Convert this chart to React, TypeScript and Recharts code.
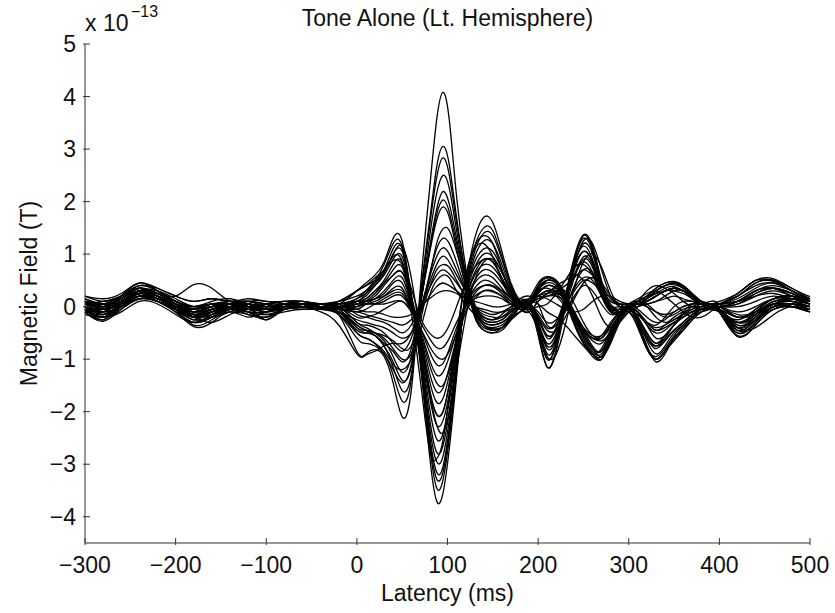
import { LineChart, Line, XAxis, YAxis } from 'recharts'

// latency samples (ms), denser around the M100
const latency = [
  -300, -280, -260, -240, -220, -200, -180, -160, -140, -120, -100, -80, -60, -40, -20,
  0, 10, 20, 30, 40, 50, 60, 70, 80, 88, 95, 102, 110, 120, 130, 140, 150, 160, 170, 180, 190,
  200, 210, 220, 230, 240, 250, 260, 270, 280, 290, 300,
  310, 320, 330, 340, 350, 360, 370, 380, 390, 400, 420, 440, 460, 480, 500,
]

// channels with positive M100 (units of 1e-13 T)
const chA1 = [0.1, -0.05, 0.05, 0.25, 0.15, -0.05, -0.2, -0.15, -0.05, 0, -0.1, 0, 0.05, 0, -0.15,
  -0.85, -0.9, -0.82, -0.95, -1.45, -2.1, -1.6, 0.35, 2.2, 3.55, 4.08, 3.55, 2.1, 0.75, -0.15, -0.45, -0.5, -0.4, -0.2, 0, 0.05,
  0.3, 0.5, 0.5, 0.2, -0.2, -0.55, -0.85, -0.9, -0.55, -0.2, 0,
  -0.35, -0.8, -1, -0.85, -0.65, -0.45, -0.25, -0.1, 0, -0.1, -0.5, -0.3, 0, 0.05, -0.05]
const chA2 = [0, -0.2, 0.05, 0.3, 0.25, 0.05, -0.15, -0.1, 0.05, 0, -0.05, 0.05, 0, -0.05, -0.1,
  -0.5, -0.6, -0.7, -0.9, -1.3, -1.8, -1.4, 0.2, 1.6, 2.65, 3.05, 2.7, 1.7, 0.6, -0.2, -0.45, -0.5, -0.45, -0.25, 0, 0.1,
  -0.3, -0.8, -0.6, 0.1, 0.8, 1.15, 0.9, 0.35, -0.1, -0.1, 0,
  0.05, 0.15, 0.3, 0.4, 0.45, 0.38, 0.22, 0.1, 0, 0.05, 0.2, 0.45, 0.5, 0.3, 0.15]
const chA3 = [0.15, 0.05, 0.15, 0.35, 0.2, 0, -0.1, 0, 0.05, 0.05, -0.05, 0, 0.05, 0, -0.05,
  -0.4, -0.5, -0.55, -0.75, -1.15, -1.6, -1.3, 0.1, 1.5, 2.45, 2.83, 2.5, 1.6, 0.65, 0, -0.3, -0.35, -0.3, -0.15, 0.05, 0.1,
  0.4, 0.55, 0.45, 0.1, -0.3, -0.7, -0.95, -1, -0.65, -0.25, -0.05,
  0, 0.1, 0.2, 0.3, 0.35, 0.3, 0.15, 0.05, 0, -0.1, -0.4, -0.2, 0.05, 0.1, 0]
const chA4 = [-0.05, -0.25, 0, 0.2, 0.1, -0.1, -0.3, -0.2, -0.05, -0.1, -0.2, -0.05, 0, -0.05, -0.15,
  -0.6, -0.7, -0.75, -0.9, -1.2, -1.45, -1.1, 0, 1.1, 1.85, 2.19, 1.95, 1.3, 0.5, -0.1, -0.35, -0.4, -0.35, -0.2, 0, 0.05,
  -0.5, -1.15, -0.85, 0, 0.85, 1.35, 1.1, 0.45, 0, -0.05, 0,
  -0.3, -0.75, -1.05, -0.9, -0.6, -0.4, -0.2, -0.05, 0, -0.1, -0.57, -0.35, -0.05, 0, -0.1]
const chA5 = [0.05, 0, 0.2, 0.4, 0.3, 0.1, -0.05, 0.05, 0.05, 0.1, 0, 0.05, 0.1, 0.05, 0,
  -0.3, -0.4, -0.5, -0.65, -0.95, -1.25, -0.95, 0.05, 1.05, 1.75, 2.03, 1.8, 1.2, 0.55, 0.05, -0.25, -0.3, -0.25, -0.1, 0.05, 0.15,
  0.45, 0.57, 0.5, 0.25, -0.1, -0.45, -0.75, -0.85, -0.5, -0.15, 0,
  0.1, 0.2, 0.35, 0.45, 0.48, 0.4, 0.25, 0.1, 0.05, 0.1, 0.25, 0.5, 0.53, 0.35, 0.19]
const chA6 = [0, -0.1, 0.1, 0.25, 0.2, -0.05, -0.35, -0.25, -0.05, 0, -0.25, 0, 0, 0, -0.1,
  -0.45, -0.5, -0.55, -0.7, -0.85, -1.05, -0.8, 0.05, 1, 1.65, 1.9, 1.7, 1.1, 0.4, -0.15, -0.4, -0.45, -0.4, -0.2, 0, 0,
  -0.45, -1, -0.7, 0.1, 0.75, 1.05, 0.85, 0.35, -0.05, -0.05, 0,
  -0.25, -0.6, -0.8, -0.65, -0.45, -0.3, -0.15, -0.05, 0, -0.05, -0.45, -0.3, 0, 0, -0.05]
const chA7 = [0.1, -0.15, 0.05, 0.3, 0.25, 0.1, 0, 0.05, 0.1, 0.05, 0, 0.05, 0.05, 0.05, 0,
  -0.3, -0.35, -0.4, -0.5, -0.7, -0.85, -0.6, -0.05, 0.55, 0.95, 1.12, 1, 0.7, 0.3, -0.05, -0.25, -0.3, -0.25, -0.1, 0.05, 0.1,
  0.2, 0.3, 0.2, 0, -0.25, -0.45, -0.6, -0.6, -0.35, -0.1, 0,
  -0.2, -0.5, -0.7, -0.55, -0.35, -0.2, -0.1, 0, 0.05, 0, 0.1, 0.3, 0.35, 0.2, 0.1]
const chA8 = [-0.1, -0.28, -0.05, 0.15, 0.1, -0.1, -0.38, -0.3, -0.1, -0.2, -0.1, -0.05, 0, -0.1, -0.35,
  -0.9, -0.92, -0.85, -0.75, -0.7, -0.7, -0.5, -0.05, 0.45, 0.8, 0.96, 0.85, 0.6, 0.3, 0, -0.15, -0.2, -0.2, -0.1, 0, 0.05,
  -0.2, -0.6, -0.4, 0.15, 0.6, 0.85, 0.65, 0.2, -0.1, -0.1, -0.05,
  0, 0.1, 0.2, 0.3, 0.3, 0.25, 0.15, 0.05, 0, -0.05, -0.3, -0.15, 0.05, 0.05, 0]
const chA9 = [0.2, 0.1, 0.2, 0.4, 0.35, 0.2, 0.1, 0.15, 0.1, 0.1, 0.05, 0.1, 0.1, 0.05, 0.05,
  -0.15, -0.2, -0.25, -0.3, -0.4, -0.5, -0.35, 0, 0.35, 0.6, 0.7, 0.62, 0.45, 0.2, 0, -0.1, -0.15, -0.1, 0, 0.1, 0.1,
  0.2, 0.25, 0.3, 0.4, 0.55, 0.7, 0.6, 0.4, 0.15, 0.05, 0.05,
  0.05, 0, -0.1, -0.15, -0.1, 0, 0.05, 0.05, 0.05, 0.05, 0.15, 0.35, 0.45, 0.3, 0.15]
const chA10 = [-0.05, -0.1, 0, 0.2, 0.15, -0.05, -0.25, -0.2, -0.1, -0.15, -0.2, -0.05, 0, 0, -0.05,
  -0.1, -0.15, -0.2, -0.25, -0.3, -0.35, -0.25, -0.05, 0.2, 0.38, 0.45, 0.4, 0.3, 0.15, 0, -0.05, -0.1, -0.1, -0.05, 0, 0,
  -0.15, -0.4, -0.35, -0.1, 0.2, 0.4, 0.3, 0.05, -0.15, -0.1, 0,
  -0.1, -0.3, -0.45, -0.4, -0.3, -0.2, -0.1, -0.05, 0, 0, -0.15, -0.1, 0.05, 0, -0.1]

// channels with negative M100
const chB1 = [0.05, 0, 0.15, 0.3, 0.2, 0.05, -0.05, 0, 0, 0, -0.05, 0, 0.05, 0.05, 0.05,
  0.3, 0.45, 0.6, 0.85, 1.3, 1.25, 0.2, -1.1, -2.8, -3.7, -3.55, -2.7, -1.35, 0.35, 1.3, 1.7, 1.6, 1.05, 0.45, 0.1, 0,
  0.35, 0.5, 0.45, 0.15, -0.25, -0.6, -0.9, -0.95, -0.6, -0.2, 0,
  0.05, 0.2, 0.35, 0.45, 0.47, 0.4, 0.25, 0.1, 0, 0.05, 0.2, 0.4, 0.45, 0.3, 0.1]
const chB2 = [0, -0.1, 0.1, 0.25, 0.15, 0, -0.1, -0.05, 0, -0.05, -0.05, 0, 0, 0, 0,
  0.15, 0.3, 0.5, 0.8, 1.2, 1.15, 0.15, -1.05, -2.6, -3.45, -3.3, -2.5, -1.25, 0.3, 1.15, 1.5, 1.45, 0.95, 0.4, 0.05, 0,
  -0.55, -1.15, -0.8, 0.15, 0.9, 1.3, 1.05, 0.4, -0.05, -0.1, 0,
  -0.35, -0.8, -1, -0.85, -0.6, -0.4, -0.2, -0.05, 0, -0.1, -0.5, -0.3, 0, 0.05, 0]
const chB3 = [0.1, 0.05, 0.15, 0.35, 0.25, 0.05, -0.1, 0, 0.05, 0, 0, 0.05, 0.05, 0, 0.05,
  0.1, 0.25, 0.45, 0.7, 1.1, 1.1, 0.2, -0.95, -2.5, -3.28, -3.15, -2.4, -1.2, 0.25, 1.05, 1.4, 1.35, 0.9, 0.4, 0.1, 0.05,
  -0.3, -0.75, -0.55, 0.2, 0.95, 1.37, 1.15, 0.5, 0.05, -0.05, 0,
  0.05, 0.15, 0.3, 0.4, 0.45, 0.35, 0.2, 0.1, 0, -0.05, -0.35, -0.2, 0.05, 0.1, 0.05]
const chB4 = [-0.05, -0.2, 0.05, 0.2, 0.15, -0.05, -0.25, -0.1, 0, -0.1, -0.15, -0.05, 0, 0, 0,
  0.1, 0.2, 0.4, 0.65, 1, 1.05, 0.25, -0.9, -2.4, -3.15, -3.05, -2.3, -1.15, 0.2, 0.95, 1.25, 1.2, 0.8, 0.35, 0.05, 0,
  0.3, 0.45, 0.4, 0.1, -0.35, -0.7, -0.9, -0.95, -0.6, -0.2, 0,
  -0.3, -0.75, -1, -0.85, -0.6, -0.45, -0.25, -0.1, 0, -0.1, -0.55, -0.35, -0.05, 0, -0.05]
const chB5 = [0.15, 0, 0.1, 0.3, 0.3, 0.1, 0, 0.05, 0.05, 0.05, 0, 0.05, 0.05, 0.05, 0.05,
  0.15, 0.25, 0.4, 0.6, 0.9, 0.95, 0.2, -0.85, -2.25, -2.95, -2.85, -2.15, -1.05, 0.2, 0.85, 1.1, 1.05, 0.7, 0.3, 0.1, 0.05,
  -0.4, -1, -0.7, 0.05, 0.7, 1.05, 0.85, 0.3, -0.1, -0.1, 0,
  0.05, 0.1, 0.2, 0.3, 0.35, 0.3, 0.2, 0.05, 0, 0.05, 0.25, 0.5, 0.5, 0.35, 0.15]
const chB6 = [0.05, -0.05, 0.2, 0.45, 0.3, 0.05, -0.1, 0, 0, 0.05, -0.05, 0, 0.05, 0, 0,
  0.05, 0.15, 0.3, 0.5, 0.8, 0.85, 0.15, -0.8, -2.1, -2.77, -2.65, -2, -1, 0.15, 0.75, 1, 0.95, 0.65, 0.3, 0.05, 0,
  0.4, 0.55, 0.5, 0.2, -0.2, -0.55, -0.8, -0.85, -0.5, -0.15, 0,
  -0.2, -0.55, -0.75, -0.65, -0.45, -0.3, -0.15, -0.05, 0, 0, 0.1, 0.3, 0.35, 0.25, 0.1]
const chB7 = [0, -0.15, 0.05, 0.25, 0.2, 0, -0.2, -0.05, -0.05, -0.1, -0.1, 0, 0, 0, -0.05,
  0, 0.1, 0.25, 0.45, 0.7, 0.75, 0.1, -0.75, -1.9, -2.52, -2.42, -1.8, -0.9, 0.1, 0.65, 0.9, 0.85, 0.55, 0.25, 0.05, 0,
  -0.35, -0.9, -0.65, 0.1, 0.8, 1.2, 1, 0.4, 0, -0.05, 0,
  -0.25, -0.65, -0.9, -0.75, -0.5, -0.35, -0.2, -0.05, 0, -0.05, -0.4, -0.25, 0, 0, -0.05]
const chB8 = [0.1, -0.05, 0.1, 0.3, 0.2, 0.05, -0.05, 0.05, 0, 0.05, 0, 0.05, 0, 0.05, 0,
  0.05, 0.1, 0.2, 0.4, 0.6, 0.65, 0.1, -0.7, -1.7, -2.25, -2.17, -1.65, -0.8, 0.1, 0.6, 0.8, 0.75, 0.5, 0.2, 0.05, 0,
  0.25, 0.4, 0.35, 0.1, -0.3, -0.65, -0.9, -1, -0.65, -0.25, -0.05,
  0, 0.15, 0.3, 0.4, 0.42, 0.35, 0.2, 0.05, 0, -0.05, -0.3, -0.15, 0.1, 0.1, 0]
const chB9 = [-0.1, -0.25, 0, 0.15, 0.1, -0.1, -0.3, -0.2, -0.05, -0.15, -0.2, -0.05, 0, -0.05, -0.05,
  -0.05, 0.05, 0.15, 0.3, 0.5, 0.55, 0.05, -0.65, -1.55, -2.05, -2, -1.5, -0.75, 0.05, 0.5, 0.7, 0.65, 0.45, 0.2, 0, 0,
  -0.3, -0.7, -0.5, 0, 0.55, 0.9, 0.75, 0.25, -0.05, -0.05, 0,
  -0.1, -0.3, -0.45, -0.35, -0.2, -0.1, -0.05, 0, 0, -0.1, -0.45, -0.25, 0, 0, -0.1]
const chB10 = [0.05, 0.1, 0.2, 0.35, 0.25, 0.1, 0, 0.05, 0.05, 0.05, 0, 0.05, 0.05, 0.05, 0,
  0.05, 0.1, 0.15, 0.25, 0.45, 0.45, 0, -0.6, -1.4, -1.82, -1.75, -1.3, -0.65, 0.05, 0.45, 0.6, 0.55, 0.35, 0.15, 0.05, 0.05,
  0.35, 0.5, 0.45, 0.2, -0.15, -0.45, -0.65, -0.7, -0.45, -0.15, 0,
  0.05, 0.1, 0.2, 0.3, 0.35, 0.3, 0.15, 0.05, 0, 0.05, 0.2, 0.45, 0.48, 0.3, 0.12]
const chB11 = [0, -0.1, 0.1, 0.25, 0.2, 0, -0.15, -0.05, 0, 0, -0.05, 0, 0, 0, 0,
  0, 0.05, 0.1, 0.2, 0.35, 0.35, -0.05, -0.55, -1.25, -1.62, -1.55, -1.15, -0.6, 0, 0.35, 0.5, 0.45, 0.3, 0.1, 0, 0,
  -0.2, -0.55, -0.4, 0.1, 0.6, 0.95, 0.8, 0.3, 0, -0.05, 0,
  -0.2, -0.5, -0.7, -0.6, -0.45, -0.3, -0.15, -0.05, 0, 0, -0.2, -0.1, 0.05, 0.05, 0]
const chB12 = [0.1, 0, 0.15, 0.3, 0.25, 0.2, 0.42, 0.35, 0.1, 0.05, 0, 0.05, 0.05, 0.05, 0.05,
  0.1, 0.1, 0.15, 0.2, 0.3, 0.3, 0, -0.45, -1, -1.3, -1.25, -0.95, -0.5, 0, 0.3, 0.4, 0.38, 0.25, 0.1, 0.05, 0.05,
  0.2, 0.3, 0.3, 0.1, -0.15, -0.4, -0.55, -0.55, -0.35, -0.1, 0,
  0.05, 0.15, 0.25, 0.35, 0.38, 0.3, 0.2, 0.05, 0, 0, 0.05, 0.2, 0.3, 0.2, 0.1]
const chB13 = [-0.05, -0.2, 0, 0.2, 0.15, 0, -0.2, -0.15, -0.05, -0.1, -0.25, -0.05, 0, 0, 0,
  0, 0.05, 0.05, 0.1, 0.2, 0.2, -0.05, -0.4, -0.85, -1.1, -1.08, -0.8, -0.4, 0, 0.2, 0.3, 0.28, 0.2, 0.05, 0, 0,
  -0.1, -0.3, -0.25, 0, 0.35, 0.55, 0.5, 0.2, 0, 0, 0,
  -0.1, -0.3, -0.4, -0.35, -0.25, -0.15, -0.1, 0, 0, -0.05, -0.3, -0.2, 0, 0, -0.05]
const chB14 = [0.2, 0.15, 0.25, 0.45, 0.35, 0.2, 0.1, 0.15, 0.1, 0.15, 0.1, 0.1, 0.1, 0.05, 0.05,
  0.05, 0.05, 0.05, 0.05, 0.1, 0.1, -0.05, -0.3, -0.6, -0.78, -0.78, -0.6, -0.3, 0, 0.15, 0.2, 0.2, 0.15, 0.05, 0.05, 0.05,
  0.15, 0.2, 0.2, 0.15, 0.3, 0.5, 0.45, 0.3, 0.1, 0.05, 0.05,
  0.05, 0.05, 0.1, 0.15, 0.2, 0.15, 0.1, 0.05, 0.05, 0.05, 0.1, 0.25, 0.35, 0.25, 0.1]

// channels with mixed / shifted timing
const chC1 = [0.05, 0.1, 0.2, 0.35, 0.2, 0, -0.15, -0.2, -0.1, 0, 0.05, 0.1, 0.05, 0, -0.1,
  -0.35, -0.45, -0.5, -0.6, -0.8, -1, -0.9, -0.3, 0.55, 1.2, 1.48, 1.45, 1.05, 0.45, -0.05, -0.35, -0.42, -0.4, -0.25, -0.1, 0.05,
  0.15, 0.25, 0.35, 0.3, 0.05, -0.3, -0.55, -0.6, -0.4, -0.15, 0.05,
  0.1, 0, -0.2, -0.3, -0.25, -0.15, -0.05, 0.05, 0.1, 0.05, -0.2, -0.05, 0.15, 0.2, 0.1]
const chC2 = [-0.15, -0.2, -0.1, 0.1, 0.05, -0.15, -0.3, -0.15, 0, -0.05, -0.15, -0.1, -0.05, -0.05, -0.1,
  -0.4, -0.45, -0.5, -0.55, -0.65, -0.8, -0.75, -0.15, 0.6, 1.1, 1.3, 1.2, 0.85, 0.35, 0, -0.2, -0.25, -0.2, -0.05, 0.15, 0.2,
  0.05, -0.35, -0.3, 0.2, 0.8, 1.25, 1.2, 0.7, 0.2, 0, -0.05,
  -0.1, -0.35, -0.6, -0.55, -0.35, -0.15, 0, 0.05, 0.05, 0.05, 0.1, 0.3, 0.4, 0.3, 0.15]
const chC3 = [0.15, 0.05, 0.1, 0.3, 0.25, 0.1, -0.05, -0.1, 0, 0.1, 0.1, 0.05, 0.05, 0, 0,
  -0.05, -0.1, -0.1, -0.15, -0.2, -0.2, -0.15, 0, 0.15, 0.25, 0.3, 0.3, 0.25, 0.15, 0.1, 0.05, 0, 0, 0.05, 0.1, 0.15,
  0.2, 0.15, 0.05, -0.05, -0.1, -0.05, 0.1, 0.2, 0.2, 0.1, 0.05,
  -0.05, -0.2, -0.3, -0.25, -0.1, 0, 0.05, 0.05, 0, -0.05, -0.2, -0.15, 0.05, 0.15, 0.1]
const chC4 = [-0.1, -0.15, 0.05, 0.2, 0.1, -0.05, -0.15, -0.05, 0.05, 0, -0.1, 0.05, 0.05, 0, 0.1,
  0.3, 0.4, 0.5, 0.7, 0.95, 0.85, -0.1, -1.4, -2.7, -2.9, -2.55, -1.7, -0.7, 0.55, 1.1, 1.2, 0.95, 0.5, 0.15, -0.05, -0.1,
  0.1, 0.2, 0.25, 0.15, -0.1, -0.4, -0.6, -0.55, -0.3, -0.1, 0.05,
  0.15, 0.25, 0.3, 0.2, 0.05, -0.1, -0.2, -0.2, -0.1, -0.05, -0.2, -0.1, 0.1, 0.15, 0.05]
const chC5 = [0.05, 0, 0.1, 0.3, 0.3, 0.15, 0, 0, 0.05, 0.1, 0.05, 0, 0, 0, 0,
  0.1, 0.15, 0.3, 0.45, 0.6, 0.65, 0.2, -0.55, -1.6, -2.25, -2.4, -2, -1.2, -0.2, 0.5, 0.85, 0.9, 0.65, 0.3, 0.05, -0.1,
  -0.45, -0.95, -0.9, -0.35, 0.35, 0.85, 1, 0.75, 0.3, 0, -0.1,
  -0.3, -0.6, -0.75, -0.6, -0.35, -0.1, 0.05, 0.1, 0.05, -0.05, -0.4, -0.4, -0.15, 0, -0.05]
const chC6 = [-0.05, -0.2, -0.05, 0.15, 0.1, -0.05, -0.15, -0.1, -0.05, -0.1, -0.1, 0, 0.05, 0, -0.05,
  -0.1, -0.05, 0.05, 0.15, 0.25, 0.25, -0.05, -0.5, -1.1, -1.45, -1.5, -1.2, -0.7, -0.1, 0.25, 0.4, 0.4, 0.3, 0.2, 0.15, 0.15,
  0.3, 0.35, 0.25, 0.05, -0.2, -0.45, -0.6, -0.65, -0.5, -0.25, -0.05,
  0, 0.05, 0.1, 0.2, 0.3, 0.3, 0.2, 0.05, -0.05, -0.1, -0.25, -0.05, 0.15, 0.2, 0.1]
const chC7 = [0.1, 0.05, 0.1, 0.25, 0.2, 0.05, -0.1, -0.05, 0.05, 0.05, 0, 0.05, 0.05, 0.05, 0,
  -0.2, -0.2, -0.15, -0.05, 0.05, 0.1, -0.1, -0.4, -0.75, -0.95, -1, -0.85, -0.5, -0.1, 0.15, 0.3, 0.3, 0.2, 0.05, -0.05, -0.05,
  -0.2, -0.45, -0.45, -0.2, 0.15, 0.45, 0.55, 0.45, 0.2, 0.05, -0.05,
  -0.15, -0.35, -0.5, -0.45, -0.3, -0.2, -0.1, -0.05, 0, 0, -0.1, 0, 0.15, 0.15, 0.05]
const chC8 = [0, -0.05, 0.1, 0.25, 0.15, 0, -0.05, 0, 0.05, 0, -0.05, 0, 0, 0.05, 0.1,
  0.3, 0.4, 0.55, 0.7, 0.88, 0.8, 0.35, -0.2, -0.5, -0.6, -0.55, -0.35, 0, 0.45, 0.75, 0.9, 0.85, 0.55, 0.2, 0, -0.05,
  0, 0.05, 0.25, 0.5, 0.75, 0.8, 0.6, 0.2, -0.1, -0.15, -0.05,
  0.1, 0.2, 0.25, 0.3, 0.35, 0.3, 0.2, 0.1, 0.05, 0.05, 0.1, 0.2, 0.25, 0.15, 0.05]
const chC9 = [0.05, -0.1, 0, 0.15, 0.15, 0, -0.2, -0.3, -0.15, -0.05, -0.1, -0.05, 0, -0.05, -0.15,
  -0.5, -0.6, -0.7, -0.85, -1.1, -1.2, -1, -0.45, 0.2, 0.5, 0.6, 0.55, 0.3, 0.05, -0.15, -0.3, -0.35, -0.3, -0.2, -0.1, -0.05,
  -0.25, -0.55, -0.45, -0.05, 0.4, 0.7, 0.65, 0.3, 0, -0.1, -0.1,
  -0.4, -0.8, -0.95, -0.8, -0.55, -0.35, -0.2, -0.1, -0.05, -0.05, -0.35, -0.25, -0.05, 0, -0.1]
const chC10 = [0.1, 0, 0.05, 0.2, 0.15, 0.05, 0, 0.1, 0.15, 0.05, 0, 0, 0.05, 0.05, -0.05,
  -0.35, -0.45, -0.55, -0.75, -1.05, -1.4, -1.15, 0, 1.3, 2.15, 2.5, 2.25, 1.45, 0.55, -0.05, -0.35, -0.45, -0.4, -0.25, -0.1, 0.05,
  0.25, 0.4, 0.35, 0.15, -0.15, -0.5, -0.8, -0.95, -0.7, -0.3, -0.1,
  -0.15, -0.3, -0.35, -0.2, 0, 0.1, 0.1, 0.05, -0.05, -0.1, -0.3, -0.1, 0.15, 0.2, 0.05]
const chC11 = [0.05, 0.05, 0.2, 0.35, 0.2, -0.05, -0.2, -0.1, 0, 0.05, -0.05, -0.05, 0, 0.05, 0.1,
  0.2, 0.3, 0.45, 0.65, 1, 1.15, 0.55, -0.55, -1.6, -2.05, -2, -1.45, -0.55, 0.55, 1.15, 1.35, 1.2, 0.7, 0.25, 0, -0.1,
  0.1, 0.25, 0.4, 0.5, 0.6, 0.5, 0.2, -0.2, -0.4, -0.3, -0.1,
  0.1, 0.3, 0.4, 0.35, 0.25, 0.1, 0, -0.05, -0.05, 0, 0.05, 0.25, 0.35, 0.25, 0.1]
const chC12 = [-0.1, -0.05, 0.05, 0.2, 0.2, 0.05, -0.1, 0, 0.1, 0.1, 0.05, 0, -0.05, -0.05, -0.1,
  -0.25, -0.3, -0.35, -0.4, -0.5, -0.6, -0.5, -0.15, 0.35, 0.7, 0.8, 0.75, 0.5, 0.2, -0.05, -0.2, -0.25, -0.15, 0, 0.1, 0.1,
  0.05, -0.1, -0.2, -0.35, -0.55, -0.75, -0.9, -0.8, -0.45, -0.15, 0,
  0.1, 0.05, -0.1, -0.2, -0.15, -0.05, 0, 0, 0, 0, 0, 0.1, 0.2, 0.1, 0]

const channels = [chA1, chA2, chA3, chA4, chA5, chA6, chA7, chA8, chA9, chA10,
  chB1, chB2, chB3, chB4, chB5, chB6, chB7, chB8, chB9, chB10, chB11, chB12, chB13, chB14,
  chC1, chC2, chC3, chC4, chC5, chC6, chC7, chC8, chC9, chC10, chC11, chC12]

const xTicks = [-300, -200, -100, 0, 100, 200, 300, 400, 500]
const yTicks = [-4, -3, -2, -1, 0, 1, 2, 3, 4, 5]

const data = latency.map((t, i) => {
  const row: Record<string, number> = { t }
  channels.forEach((ch, j) => {
    row['c' + j] = ch[i]
  })
  return row
})

const FONT = '"Liberation Sans", Arial, Helvetica, sans-serif'
const AXIS = '#333'
const TICK_LEN = 7

const fmt = (v: number) => String(v).replace('-', '\u2212')

function BottomTick({ x, y, payload }: any) {
  return (
    <g>
      <line x1={x} y1={y} x2={x} y2={y - TICK_LEN} stroke={AXIS} />
      <text x={x} y={y + 12} dy="0.71em" textAnchor="middle" fontSize={23} fontFamily={FONT} fill="#111">
        {fmt(payload.value)}
      </text>
    </g>
  )
}

function LeftTick({ x, y, payload }: any) {
  return (
    <g>
      <line x1={x} y1={y} x2={x + TICK_LEN} y2={y} stroke={AXIS} />
      <text x={x - 7} y={y} dy="0.36em" textAnchor="end" fontSize={23} fontFamily={FONT} fill="#111">
        {fmt(payload.value)}
      </text>
    </g>
  )
}

function TopTick({ x, y }: any) {
  return <line x1={x} y1={y} x2={x} y2={y + TICK_LEN} stroke={AXIS} />
}

function RightTick({ x, y }: any) {
  return <line x1={x} y1={y} x2={x - TICK_LEN} y2={y} stroke={AXIS} />
}

export default function App() {
  return (
    <div style={{ position: 'absolute', left: 0, top: 0, width: 835, height: 613, background: '#fff' }}>
      <LineChart width={835} height={613} data={data} margin={{ top: 44, right: 25, left: 0, bottom: 0 }}>
        <XAxis
          dataKey="t"
          type="number"
          domain={[-300, 500]}
          ticks={xTicks}
          interval={0}
          height={70}
          tickSize={0}
          tickLine={false}
          tick={BottomTick}
          axisLine={{ stroke: AXIS }}
        />
        <XAxis
          xAxisId="top"
          orientation="top"
          dataKey="t"
          type="number"
          domain={[-300, 500]}
          ticks={xTicks}
          interval={0}
          height={0}
          tickSize={0}
          tickLine={false}
          tick={TopTick}
          axisLine={{ stroke: AXIS }}
        />
        <YAxis
          type="number"
          domain={[-4.5, 5]}
          ticks={yTicks}
          interval={0}
          width={85}
          tickSize={0}
          tickLine={false}
          tick={LeftTick}
          axisLine={{ stroke: AXIS }}
          allowDataOverflow
        />
        <YAxis
          yAxisId="right"
          orientation="right"
          type="number"
          domain={[-4.5, 5]}
          ticks={yTicks}
          interval={0}
          width={0}
          tickSize={0}
          tickLine={false}
          tick={RightTick}
          axisLine={{ stroke: AXIS }}
          allowDataOverflow
        />
        {channels.map((_, j) => (
          <Line
            key={j}
            dataKey={'c' + j}
            type="natural"
            stroke="#000"
            strokeWidth={1.3}
            dot={false}
            activeDot={false}
            isAnimationActive={false}
          />
        ))}
      </LineChart>
      <svg
        width={835}
        height={613}
        style={{ position: 'absolute', left: 0, top: 0, pointerEvents: 'none' }}
        fontFamily={FONT}
        fill="#111"
      >
        <text x={447.5} y={26} textAnchor="middle" fontSize={23}>
          Tone Alone (Lt. Hemisphere)
        </text>
        <text x={85} y={31} fontSize={23}>
          x 10
        </text>
        <text x={131} y={17} fontSize={16}>
          {'\u221213'}
        </text>
        <text x={447.5} y={601} textAnchor="middle" fontSize={23}>
          Latency (ms)
        </text>
        <text x={37} y={293.5} textAnchor="middle" fontSize={23} transform="rotate(-90 37 293.5)">
          Magnetic Field (T)
        </text>
      </svg>
    </div>
  )
}
